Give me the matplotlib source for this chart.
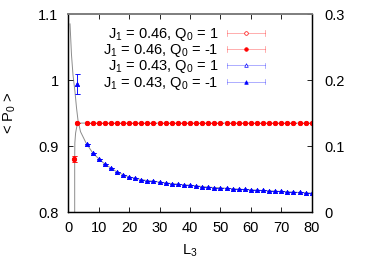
import matplotlib
matplotlib.use('Agg')
import matplotlib.pyplot as plt
from matplotlib.lines import Line2D
from matplotlib.legend_handler import HandlerBase

plt.rcParams['font.family'] = ['Liberation Sans', 'DejaVu Sans']
plt.rcParams['font.size'] = 10.5
plt.rcParams['mathtext.fontset'] = 'custom'
plt.rcParams['mathtext.rm'] = 'Liberation Sans'
plt.rcParams['mathtext.it'] = 'Liberation Sans'
plt.rcParams['mathtext.default'] = 'regular'

# J1 = 0.46 (red), both Q0 sectors coincide
red_L3 = [2, 3, 6, 8, 10, 12, 14, 16, 18, 20, 22, 24, 26, 28, 30, 32, 34, 36, 38, 40,
          42, 44, 46, 48, 50, 52, 54, 56, 58, 60, 62, 64, 66, 68, 70, 72, 74, 76, 78, 80]
red_P0 = [0.881, 0.935, 0.935, 0.935, 0.935, 0.935, 0.935, 0.935, 0.935, 0.935,
          0.935, 0.935, 0.935, 0.935, 0.935, 0.935, 0.935, 0.935, 0.935, 0.935,
          0.935, 0.935, 0.935, 0.935, 0.935, 0.935, 0.935, 0.935, 0.935, 0.935,
          0.935, 0.935, 0.935, 0.935, 0.935, 0.935, 0.935, 0.935, 0.935, 0.935]
red_err = [0.0045, 0.0] + [0.0] * 38

# J1 = 0.43 (blue)
blue_L3 = [3, 6, 8, 10, 12, 14, 16, 18, 20, 22, 24, 26, 28, 30, 32, 34, 36, 38, 40,
           42, 44, 46, 48, 50, 52, 54, 56, 58, 60, 62, 64, 66, 68, 70, 72, 74, 76, 78, 80]
blue_P0 = [0.994, 0.904, 0.890, 0.881, 0.873, 0.867, 0.861, 0.857, 0.8535, 0.8515,
           0.8495, 0.848, 0.847, 0.8455, 0.8445, 0.8435, 0.8425, 0.8415, 0.841,
           0.840, 0.839, 0.838, 0.8375, 0.837, 0.8363, 0.8357, 0.835, 0.8345, 0.834,
           0.8335, 0.833, 0.8325, 0.832, 0.8315, 0.831, 0.8305, 0.830, 0.8295, 0.829]
blue_err = [0.015] + [0.0] * 38

# fitted curves (grey)
fit_blue_L3 = [0.56, 1.05, 1.54, 2.2, 2.7, 3.19, 4.01, 5.82] + blue_L3[2:]
fit_blue_P0 = [1.085, 1.038, 1.008, 0.982, 0.958, 0.939, 0.922, 0.905] + blue_P0[2:]
fit_red_L3 = [2.1, 2.1, 2.15, 2.4, 2.8, 3.2, 4.0, 80]
fit_red_P0 = [0.80, 0.88, 0.905, 0.92, 0.930, 0.934, 0.935, 0.935]

labels = [r'J$_1$ = 0.46, Q$_0$ = 1', r'J$_1$ = 0.46, Q$_0$ = -1',
          r'J$_1$ = 0.43, Q$_0$ = 1', r'J$_1$ = 0.43, Q$_0$ = -1']


class ErrBarHandler(HandlerBase):
    def create_artists(self, legend, orig, xdescent, ydescent, width, height, fontsize, trans):
        y = height / 2 - ydescent
        x0, x1 = -xdescent, width - xdescent
        c = orig.get_color()
        arts = [Line2D([x0, x1], [y, y], color=c, lw=0.5, alpha=0.45)]
        for xc in (x0, x1):
            arts.append(Line2D([xc, xc], [y - 2, y + 2], color=c, lw=0.5, alpha=0.45))
        arts.append(Line2D([(x0 + x1) / 2], [y], marker=orig.get_marker(), color=c,
                           mfc=orig.get_markerfacecolor(), mew=0.5,
                           ms=orig.get_markersize(), ls='none'))
        for a in arts:
            a.set_transform(trans)
        return arts


fig = plt.figure(figsize=(3.87, 2.71), dpi=100)
ax = fig.add_axes([0.1765, 0.2166, 0.6289, 0.7317])

ax.plot(fit_blue_L3, fit_blue_P0, color='#8c8c8c', lw=0.7, zorder=1)
ax.plot(fit_red_L3, fit_red_P0, color='#8c8c8c', lw=0.7, zorder=1)

style = dict(mew=0.5, elinewidth=0.5, capsize=1.8, capthick=0.5, ecolor=None)
ax.errorbar(red_L3, red_P0, yerr=red_err, fmt='o', color='red', mfc='white', ms=3.2,
            alpha=0.9, zorder=2, **style)
ax.errorbar(red_L3, red_P0, yerr=red_err, fmt='o', color='red', ms=3.2,
            zorder=3, **style)
ax.errorbar(blue_L3, blue_P0, yerr=blue_err, fmt='^', color='blue', mfc='white', ms=3.0,
            zorder=2, **style)
ax.errorbar(blue_L3, blue_P0, yerr=blue_err, fmt='^', color='blue', ms=3.0,
            zorder=3, **style)

handles = [Line2D([], [], color='red', marker='o', mfc='white', ms=2.6),
           Line2D([], [], color='red', marker='o', mfc='red', ms=2.6),
           Line2D([], [], color='blue', marker='^', mfc='white', ms=2.6),
           Line2D([], [], color='blue', marker='^', mfc='blue', ms=2.6)]
ax.legend(handles, labels, handler_map={Line2D: ErrBarHandler()}, markerfirst=False,
          frameon=False, loc='upper right', bbox_to_anchor=(0.808, 0.94),
          borderpad=0, borderaxespad=0, handlelength=2.6, handletextpad=0.62,
          labelspacing=-0.05)

ax.set_xlim(0, 80)
ax.set_ylim(0.8, 1.1)
ax.set_xticks([0, 10, 20, 30, 40, 50, 60, 70, 80])
ax.set_yticks([0.8, 0.9, 1.0, 1.1])
ax.set_yticklabels(['0.8', '0.9', '1', '1.1'])
ax.tick_params(direction='in', length=3.5, width=0.6, top=True, pad=7)
ax.tick_params(axis='x', pad=6)
ax.set_xlabel(r'L$_3$', labelpad=6)
ax.set_ylabel('< P$_0$ >')
ax.yaxis.set_label_coords(-0.205, 0.5)

ax2 = ax.twinx()
ax2.set_ylim(0, 0.3)
ax2.set_yticks([0, 0.1, 0.2, 0.3])
ax2.set_yticklabels(['0', '0.1', '0.2', '0.3'])
ax2.tick_params(direction='in', length=3.5, width=0.6, pad=9)

for a in (ax, ax2):
    for s in a.spines.values():
        s.set_linewidth(0.9)
    a.spines['top'].set_color('#808080')
    a.spines['top'].set_linewidth(1.3)

fig.savefig('out.png', dpi=100)
